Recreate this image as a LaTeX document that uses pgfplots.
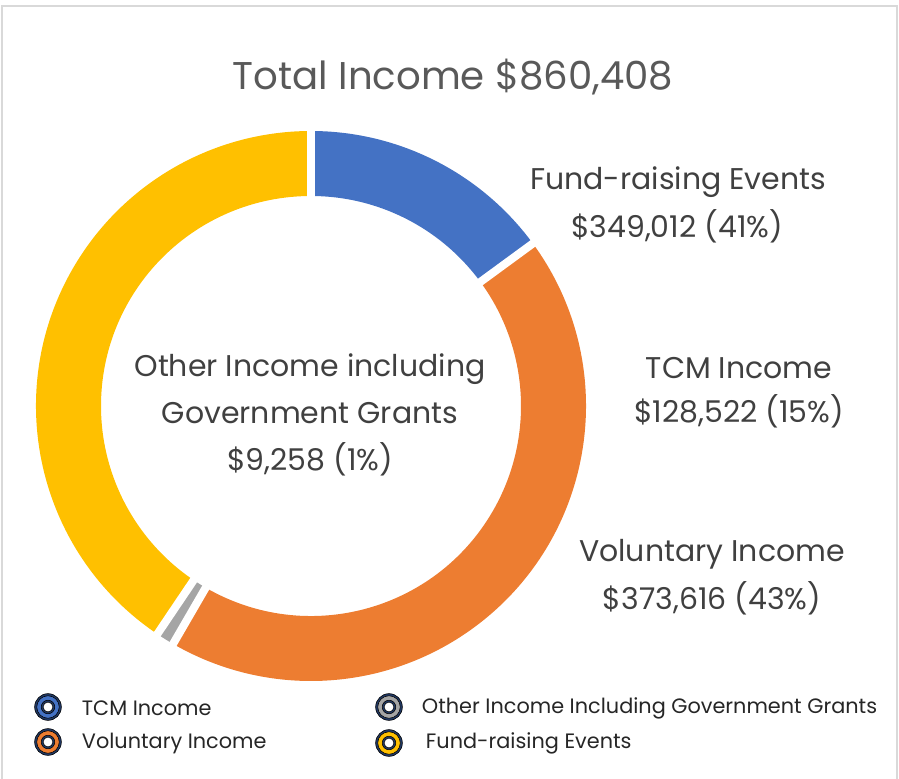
\documentclass[border=0pt]{standalone}
\usepackage{pgfplots}
\pgfplotsset{compat=1.18}
\usepackage{pgfplotstable}
\usepackage{xfp}
\usepackage{fontspec}
\setmainfont{Poppins}

\definecolor{tcmBlue}{RGB}{68,114,196}
\definecolor{volOrange}{RGB}{237,125,49}
\definecolor{othGray}{RGB}{165,165,165}
\definecolor{fundYellow}{RGB}{255,192,0}
\definecolor{mkNavy}{RGB}{32,56,100}
\definecolor{titleGray}{RGB}{89,89,89}
\definecolor{lblGray}{RGB}{64,64,64}
\definecolor{legGray}{RGB}{38,38,38}
\definecolor{frameGray}{RGB}{217,217,217}

\pgfplotstableread{
source value
TCM 128522
Voluntary 373616
Other 9258
Fundraising 349012
}\incometable

\pgfplotstablegetelem{0}{value}\of\incometable \let\vTCM\pgfplotsretval
\pgfplotstablegetelem{1}{value}\of\incometable \let\vVol\pgfplotsretval
\pgfplotstablegetelem{2}{value}\of\incometable \let\vOth\pgfplotsretval
\pgfplotstablegetelem{3}{value}\of\incometable \let\vFund\pgfplotsretval
\edef\total{\fpeval{\vTCM+\vVol+\vOth+\vFund}}
\edef\aA{90}
\edef\aB{\fpeval{\aA-360*\vTCM/\total}}
\edef\aC{\fpeval{\aB-360*\vVol/\total}}
\edef\aD{\fpeval{\aC-360*\vOth/\total}}
\edef\aE{\fpeval{\aD-360*\vFund/\total}}

% one axis unit = one pixel of the reference
\def\px{0.025cm}
\def\cx{311}\def\cy{372}\def\ro{275}\def\ri{210}

\newcommand\donutwedge[3]{%
  \fill[#3] (axis cs:{\cx+\ro*cos(#1)},{\cy+\ro*sin(#1)})
    arc[start angle=#1, end angle=#2, radius=\ro*\px]
    -- (axis cs:{\cx+\ri*cos(#2)},{\cy+\ri*sin(#2)})
    arc[start angle=#2, end angle=#1, radius=\ri*\px] -- cycle;}
\newcommand\donutgap[1]{%
  \draw[white, line width=0.2cm] (axis cs:{\cx+(\ri-10)*cos(#1)},{\cy+(\ri-10)*sin(#1)})
    -- (axis cs:{\cx+(\ro+10)*cos(#1)},{\cy+(\ro+10)*sin(#1)});}

\newcommand\lblfont{\fontsize{21.3}{25}\selectfont}
\newcommand\legfont{\fontsize{14.8}{17}\selectfont}

\begin{document}%
\begin{tikzpicture}
\begin{axis}[
  x=\px, y=\px,
  xmin=0, xmax=899, ymin=0, ymax=778,
  disabledatascaling,
  hide axis, clip=false,
]
\coordinate (ll) at (axis cs:0,0);
\coordinate (ur) at (axis cs:899,778);
\draw[frameGray, line width=0.04cm]
  (axis cs:2,-10) -- (axis cs:2,772) -- (axis cs:897,772) -- (axis cs:897,-10);

%% donut
\donutwedge{\aA}{\aB}{tcmBlue}
\donutwedge{\aB}{\aC}{volOrange}
\donutwedge{\aC}{\aD}{othGray}
\donutwedge{\aD}{\aE}{fundYellow}
\donutgap{\aA}\donutgap{\aB}\donutgap{\aC}\donutgap{\aD}

%% legend markers
\addplot[only marks, mark=*, mark size=9.5pt, mark options={fill=mkNavy, draw=none}]
  coordinates {(48,71) (48,36) (389,71) (389,35)};
\addplot[only marks, mark=*, mark size=8.0pt, mark options={fill=tcmBlue, draw=none}]
  coordinates {(48,71)};
\addplot[only marks, mark=*, mark size=8.0pt, mark options={fill=volOrange, draw=none}]
  coordinates {(48,36)};
\addplot[only marks, mark=*, mark size=8.0pt, mark options={fill=othGray, draw=none}]
  coordinates {(389,71)};
\addplot[only marks, mark=*, mark size=8.0pt, mark options={fill=fundYellow, draw=none}]
  coordinates {(389,35)};
\addplot[only marks, mark=*, mark size=4.8pt, mark options={fill=mkNavy, draw=none}]
  coordinates {(48,71) (48,36) (389,71) (389,35)};
\addplot[only marks, mark=*, mark size=3.5pt, mark options={fill=white, draw=none}]
  coordinates {(48,71) (48,36) (389,71) (389,35)};

%% texts
\node[font=\fontsize{27.5}{32}\selectfont, text=titleGray] at (axis cs:453,701) {Total Income \$860,408};
\node[font=\lblfont, text=lblGray] at (axis cs:678,596) {Fund-raising Events};
\node[font=\lblfont, text=lblGray] at (axis cs:677,552) {\$349,012 (41\%)};
\node[font=\lblfont, text=lblGray] at (axis cs:739,410) {TCM Income};
\node[font=\lblfont, text=lblGray] at (axis cs:739,367) {\$128,522 (15\%)};
\node[font=\lblfont, text=lblGray] at (axis cs:712,224) {Voluntary Income};
\node[font=\lblfont, text=lblGray] at (axis cs:712,180) {\$373,616 (43\%)};
\node[font=\lblfont, text=lblGray] at (axis cs:310,409) {Other Income including};
\node[font=\lblfont, text=lblGray] at (axis cs:310,365) {Government Grants};
\node[font=\lblfont, text=lblGray] at (axis cs:310,319) {\$9,258 (1\%)};
\node[font=\legfont, text=legGray, anchor=west] at (axis cs:77,70) {TCM Income};
\node[font=\legfont, text=legGray, anchor=west] at (axis cs:77,35) {Voluntary Income};
\node[font=\legfont, text=legGray, anchor=west] at (axis cs:417,70) {Other Income Including Government Grants};
\node[font=\legfont, text=legGray, anchor=west] at (axis cs:421,35) {Fund-raising Events};
\end{axis}
\pgfresetboundingbox
\path[use as bounding box] (ll) rectangle (ur);
\end{tikzpicture}%
\end{document}
